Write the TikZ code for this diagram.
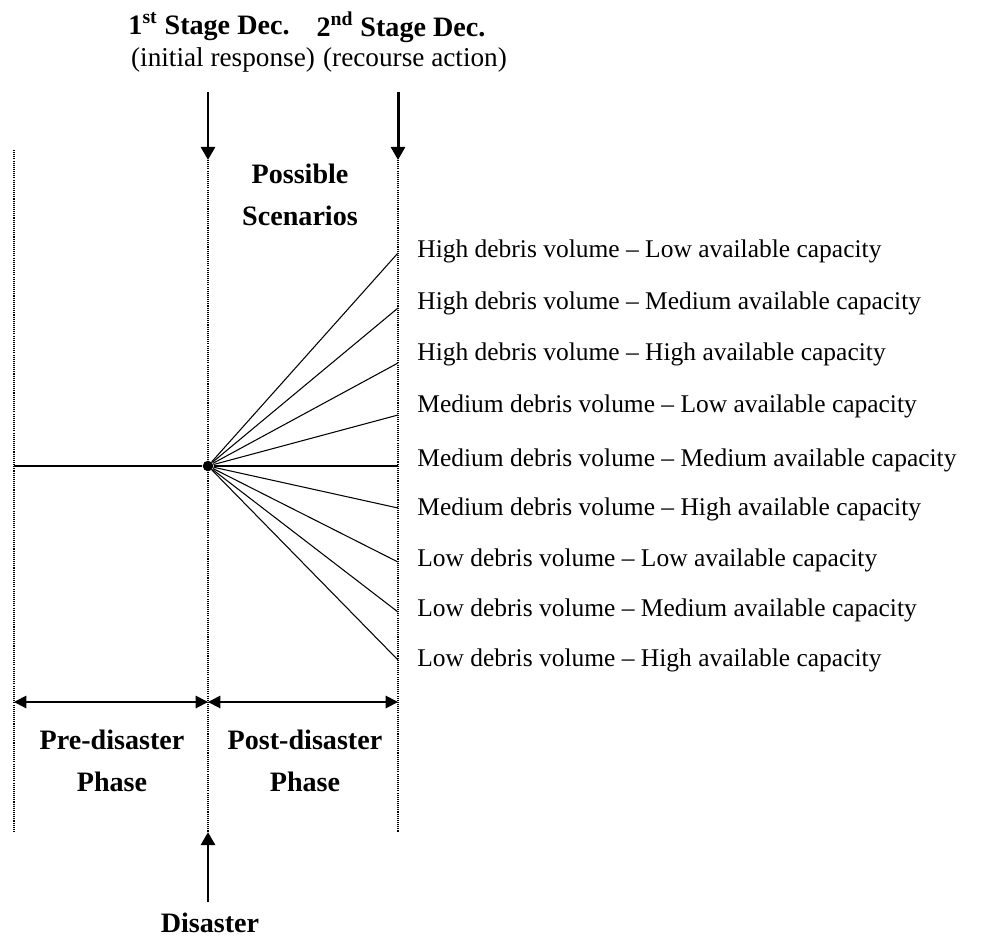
\documentclass[tikz,border=0pt]{standalone}
\usepackage{fontspec}
\setmainfont{Liberation Serif}
\usetikzlibrary{arrows.meta}

\begin{document}
\begin{tikzpicture}[x=0.02cm,y=-0.02cm,>={Triangle[length=7.5pt,width=8pt]}]
\tikzstyle{head}=[font=\bfseries\fontsize{16}{23.5}\selectfont,align=center,inner sep=0pt]
\tikzstyle{sub}=[font=\fontsize{15.5}{18}\selectfont,inner sep=0pt]
\tikzstyle{scen}=[font=\fontsize{14.5}{17}\selectfont,anchor=west,inner sep=0pt]
\tikzstyle{phase}=[line width=0.6pt,dash pattern=on 0.6pt off 0.6pt]
\tikzstyle{bigarrow}=[->,line width=1.7pt]
\tikzstyle{span}=[{Triangle[length=7pt,width=7pt]}-{Triangle[length=7pt,width=7pt]},line width=1.1pt]
\useasboundingbox (0,0) rectangle (986,940);
% phase boundaries
\foreach \n/\x/\t in {l/14/150,m/208/160,r/398/160} {\coordinate (top\n) at (\x,\t); \coordinate (bot\n) at (\x,832); \coordinate (span\n) at (\x,702); \draw[phase] (top\n) -- (bot\n);}
\node[head] (st1) at (209,27) {1\textsuperscript{st} Stage Dec.};
\node[sub] (resp1) at (223,60) {(initial response)};
\node[head] (st2) at (401,27) {2\textsuperscript{nd} Stage Dec.};
\node[sub] (resp2) at (415,60) {(recourse action)};
\coordinate (arrm) at (208,92); \coordinate (arrr) at (398,92);
\draw[bigarrow] (arrm) -- (topm);
\draw[bigarrow] (arrr) -- (topr);
\node[head] (poss) at (300,195) {Possible\\Scenarios};
% scenario fan
\node[circle,fill,inner sep=0pt,minimum size=6pt] (c) at (208,466) {};
\coordinate (midl) at (14,466);
\draw[line width=0.7pt] (midl) -- (c);
\foreach \i/\ye/\yl/\t in {1/253/251/High debris volume -- Low available capacity,2/308/303/High debris volume -- Medium available capacity,3/363/354/High debris volume -- High available capacity,4/415/406/Medium debris volume -- Low available capacity,5/466/460/Medium debris volume -- Medium available capacity,6/508/509/Medium debris volume -- High available capacity,7/562/560/Low debris volume -- Low available capacity,8/612/610/Low debris volume -- Medium available capacity,9/660/660/Low debris volume -- High available capacity} {\coordinate (e\i) at (398,\ye); \node[scen] (sc\i) at (417,\yl) {\t}; \draw[line width=0.6pt] (c) -- (e\i);}
% phases
\draw[span] (spanl) -- (spanm);
\draw[span] (spanm) -- (spanr);
\node[head] (pre) at (112,761) {Pre-disaster\\Phase};
\node[head] (post) at (305,761) {Post-disaster\\Phase};
\coordinate (arrd) at (208,902);
\draw[bigarrow] (arrd) -- (botm);
\node[head] (dis) at (210,923) {Disaster};
\end{tikzpicture}
\end{document}
